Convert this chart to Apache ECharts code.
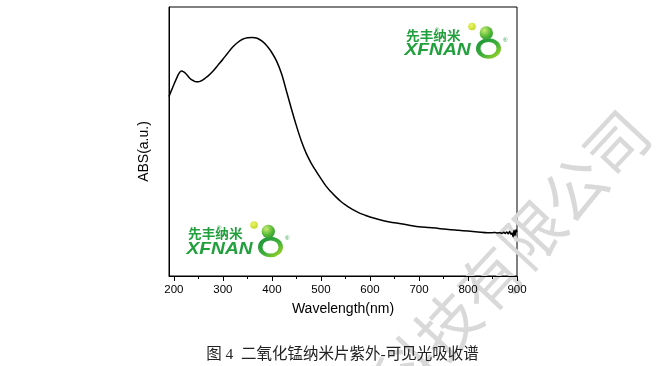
<!DOCTYPE html>
<html>
<head>
<meta charset="utf-8">
<script src="https://cdn.jsdelivr.net/npm/echarts@6/dist/echarts.min.js"></script>
<style>
html,body{margin:0;padding:0;background:#fff;}
#chart{width:669px;height:366px;}
</style>
</head>
<body>
<div id="chart"></div>
<script>
// Data (absorbance in arbitrary units)
const wavelength = [190,195,200,205,210,215,220,225,230,235,240,245,250,255,260,265,270,280,290,300,310,320,330,340,350,360,370,380,390,400,410,420,430,440,450,460,470,480,490,500,510,520,530,540,550,560,570,580,590,600,620,640,660,680,700,720,740,760,780,800,820,840,850,855,860,865,870,873,876,879,882,885,888,890,892,894,896,898,900];
const absorbance = [0.667,0.690,0.712,0.733,0.752,0.762,0.759,0.751,0.740,0.731,0.726,0.722,0.722,0.725,0.730,0.737,0.744,0.762,0.784,0.806,0.829,0.851,0.868,0.880,0.886,0.887,0.884,0.873,0.855,0.830,0.797,0.750,0.685,0.620,0.558,0.502,0.456,0.420,0.390,0.362,0.335,0.314,0.295,0.278,0.264,0.252,0.242,0.233,0.226,0.219,0.209,0.201,0.195,0.189,0.183,0.180,0.177,0.173,0.170,0.167,0.164,0.161,0.161,0.162,0.160,0.161,0.159,0.163,0.158,0.164,0.157,0.165,0.155,0.160,0.146,0.170,0.150,0.172,0.163];
const majorTicks = [200,300,400,500,600,700,800,900];
const minorTicks = [250,350,450,550,650,750,850];
const xName = 'Wavelength(nm)';
const yName = 'ABS(a.u.)';
const caption = '图 4  二氧化锰纳米片紫外-可见光吸收谱';
const watermarkText = '科技有限公司';

const chart = echarts.init(document.getElementById('chart'), null, {renderer:'canvas'});

const green = '#22a03d';
function logo(x, y) {
  return {
    type: 'group', x: x, y: y, z: 1,
    children: [
      {type:'text', x:2, y:6.5, scaleX:1.05, style:{text:'先丰纳米', fill:green, font:'bold 13px "Noto Sans CJK SC"', textVerticalAlign:'top'}},
      {type:'text', x:31, y:5, style:{text:'®', fill:green, font:'6px sans-serif', textVerticalAlign:'top'}},
      {type:'text', x:0.5, y:20, scaleX:1.13, style:{text:'XFNAN', fill:green, font:'italic bold 17px "Liberation Sans"', textVerticalAlign:'top'}},
      {type:'ring', x:84.5, y:26.5, scaleY:0.82, shape:{cx:0, cy:0, r:12.5, r0:8},
        style:{fill:new echarts.graphic.LinearGradient(0,0,1,1,[{offset:0,color:'#16903a'},{offset:0.55,color:'#3fb03a'},{offset:1,color:'#b4dc22'}])}},
      {type:'circle', shape:{cx:82.3, cy:11, r:6.7},
        style:{fill:new echarts.graphic.RadialGradient(0.35,0.3,0.8,[{offset:0,color:'#c8ec70'},{offset:0.6,color:'#55b837'},{offset:1,color:'#2a9a35'}])}},
      {type:'circle', shape:{cx:68, cy:4.5, r:3.8},
        style:{fill:new echarts.graphic.RadialGradient(0.4,0.35,0.8,[{offset:0,color:'#eef56a'},{offset:1,color:'#b8d41c'}])}},
      {type:'text', x:99, y:15, style:{text:'®', fill:green, font:'6px sans-serif', textVerticalAlign:'top'}}
    ]
  };
}

const option = {
  animation: false,
  backgroundColor: '#fff',
  grid: {left:169, right:152, top:7, bottom:90, show:true, borderColor:'#000', borderWidth:1, backgroundColor:'transparent'},
  xAxis: [{
    type:'value', min:190, max:900,
    name:xName, nameLocation:'middle', nameGap:26,
    nameTextStyle:{fontFamily:'Liberation Sans', fontSize:14, color:'#000'},
    axisLine:{show:true, lineStyle:{color:'#000', width:1}},
    axisTick:{show:true, inside:false, length:5, customValues:majorTicks, lineStyle:{color:'#000'}},
    axisLabel:{show:true, customValues:majorTicks, margin:8, fontFamily:'Liberation Sans', fontSize:11.5, color:'#000'},
    splitLine:{show:false}
  },{
    type:'value', min:190, max:900, position:'bottom',
    axisLine:{show:false},
    axisTick:{show:true, inside:false, length:3, customValues:minorTicks, lineStyle:{color:'#000'}},
    axisLabel:{show:false},
    splitLine:{show:false}
  }],
  yAxis: {
    type:'value', min:0, max:1,
    name:yName, nameLocation:'middle', nameGap:18, nameRotate:90,
    nameTextStyle:{fontFamily:'Liberation Sans', fontSize:14, color:'#000', padding:[0,20,0,0]},
    axisLine:{show:true, lineStyle:{color:'#000', width:1}},
    axisTick:{show:false}, axisLabel:{show:false}, splitLine:{show:false}
  },
  series: [{
    type:'line', xAxisIndex:0,
    data: wavelength.map((w,i)=>[w, absorbance[i]]),
    smooth:0.3, showSymbol:false, symbol:'none',
    lineStyle:{color:'#000', width:1.5}, z:3
  }],
  graphic: [
    {type:'text', x:511, y:257, rotation:47*Math.PI/180, z:0,
      style:{text:watermarkText, fill:'#d9d9d9', font:'62px "Noto Sans CJK SC"', textAlign:'center', textVerticalAlign:'middle'}},
    logo(404, 22),
    logo(186, 220.5),
    {type:'text', x:342.5, y:355, z:1,
      style:{text:caption, fill:'#222', font:'15.5px "Liberation Serif", "Noto Sans CJK SC"', textAlign:'center', textVerticalAlign:'middle'}}
  ]
};
chart.setOption(option);
</script>
</body>
</html>
